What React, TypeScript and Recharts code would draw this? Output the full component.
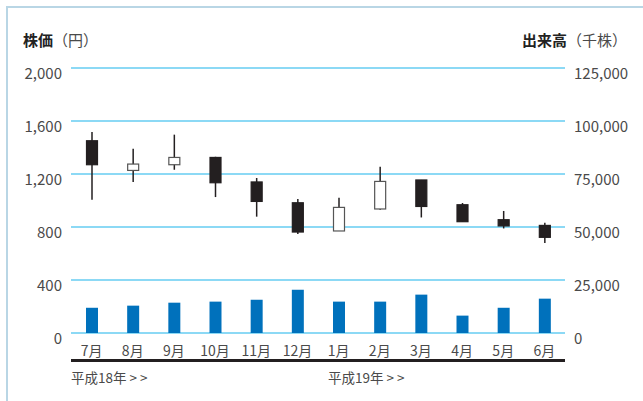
import { ComposedChart, Bar, XAxis, YAxis, CartesianGrid } from 'recharts';

const months = ['7月', '8月', '9月', '10月', '11月', '12月', '1月', '2月', '3月', '4月', '5月', '6月'];
const opens = [1451, 1227, 1270, 1325, 1140, 983, 770, 936, 1155, 968, 855, 812];
const closes = [1270, 1275, 1325, 1134, 993, 762, 948, 1144, 955, 840, 808, 722];
const highs = [1517, 1391, 1497, 1330, 1170, 1011, 1021, 1255, 1155, 981, 921, 832];
const lows = [1006, 1140, 1232, 1026, 878, 747, 770, 930, 872, 840, 789, 679];
const volumes = [11900, 12900, 14300, 14800, 15700, 20400, 14800, 14800, 18100, 8200, 11900, 16200];

const priceTicks = [0, 400, 800, 1200, 1600, 2000];
const volumeTicks = [0, 25000, 50000, 75000, 100000, 125000];
const eraLabels = ['平成18年 > >', '平成19年 > >'];

const data = months.map((m, i) => ({
  month: m,
  open: opens[i],
  close: closes[i],
  high: highs[i],
  low: lows[i],
  volume: volumes[i],
}));

const FONT = '"Noto Sans CJK JP", "Noto Sans", sans-serif';
const INK = '#231f20';
const TEXT = '#4a4a4a';

// body + wick drawn inside the [low, high] bar that recharts lays out
const Candle = (props: any) => {
  const { x, y, width, height, payload } = props;
  if (!payload) return null;
  const { open, close, high, low } = payload;
  const ratio = height / (high - low || 1);
  const yOf = (v: number) => y + (high - v) * ratio;
  const cx = x + width / 2;
  const top = yOf(Math.max(open, close));
  const bot = yOf(Math.min(open, close));
  const up = close > open;
  return (
    <g>
      <line x1={cx} x2={cx} y1={y} y2={y + height} stroke={INK} strokeWidth={1.5} />
      <rect
        x={x + 0.5}
        y={top}
        width={width - 1}
        height={Math.max(bot - top, 1)}
        fill={up ? '#fff' : INK}
        stroke={up ? '#555' : INK}
        strokeWidth={1.2}
      />
    </g>
  );
};

const LeftTick = ({ x, y, payload }: any) => (
  <text x={x} y={y + 4} textAnchor="end" dominantBaseline="central" fontSize={15} fill={TEXT} fontFamily={FONT}>
    {payload.value.toLocaleString('en-US')}
  </text>
);

const RightTick = ({ x, y, payload }: any) => (
  <text x={x} y={y + 4} textAnchor="start" dominantBaseline="central" fontSize={15} fill={TEXT} fontFamily={FONT}>
    {payload.value.toLocaleString('en-US')}
  </text>
);

const MonthTick = ({ x, y, payload }: any) => (
  <text x={x} y={y + 17} textAnchor="middle" dominantBaseline="central" fontSize={14} fill={TEXT} fontFamily={FONT}>
    {payload.value}
  </text>
);

export default function App() {
  return (
    <div style={{ position: 'absolute', left: 0, top: 0, width: 643, height: 401, background: '#fff', fontFamily: FONT }}>
      <div
        style={{
          position: 'absolute',
          left: 6,
          top: 6,
          width: 637,
          height: 395,
          borderTop: '2px solid #b9d6e5',
          borderLeft: '2px solid #b9d6e5',
          boxSizing: 'border-box',
        }}
      />
      <div style={{ position: 'absolute', left: 23, top: 30, fontSize: 15, lineHeight: '20px', color: '#222' }}>
        <b>株価</b>
        <span style={{ color: TEXT }}>（円）</span>
      </div>
      <div style={{ position: 'absolute', right: 16, top: 30, fontSize: 15, lineHeight: '20px', color: '#222' }}>
        <b>出来高</b>
        <span style={{ color: TEXT }}>（千株）</span>
      </div>
      {/* thick rule under the month labels */}
      <div style={{ position: 'absolute', left: 71, top: 359, width: 494, height: 2.5, background: INK }} />
      <div style={{ position: 'absolute', left: 71, top: 368, fontSize: 13.5, lineHeight: '18px', color: TEXT }}>
        {eraLabels[0]}
      </div>
      <div style={{ position: 'absolute', left: 328, top: 368, fontSize: 13.5, lineHeight: '18px', color: TEXT }}>
        {eraLabels[1]}
      </div>
      <div style={{ position: 'absolute', left: 0, top: 0 }}>
        <ComposedChart width={643} height={401} data={data} margin={{ top: 68, right: 0, bottom: 21, left: 0 }}>
          <CartesianGrid
            xAxisId="main"
            yAxisId="price"
            vertical={false}
            stroke="#66cdf2"
            strokeWidth={1.3}
          />
          <XAxis
            xAxisId="main"
            dataKey="month"
            height={47}
            axisLine={false}
            tickLine={false}
            tickSize={0}
            tickMargin={0}
            tick={<MonthTick />}
            interval={0}
          />
          <XAxis xAxisId="c" dataKey="month" height={0} hide />
          <YAxis
            yAxisId="price"
            orientation="left"
            width={71}
            domain={[0, 2000]}
            ticks={priceTicks}
            axisLine={false}
            tickLine={false}
            tickSize={0}
            tickMargin={9}
            tick={<LeftTick />}
            interval={0}
          />
          <YAxis
            yAxisId="vol"
            orientation="right"
            width={78}
            domain={[0, 125000]}
            ticks={volumeTicks}
            axisLine={false}
            tickLine={false}
            tickSize={0}
            tickMargin={9}
            tick={<RightTick />}
            interval={0}
          />
          <Bar
            xAxisId="main"
            yAxisId="vol"
            dataKey="volume"
            fill="#0071bc"
            barSize={12}
            isAnimationActive={false}
          />
          <Bar
            xAxisId="c"
            yAxisId="price"
            dataKey={(d: any) => [d.low, d.high]}
            barSize={12}
            shape={<Candle />}
            isAnimationActive={false}
          />
        </ComposedChart>
      </div>
    </div>
  );
}
